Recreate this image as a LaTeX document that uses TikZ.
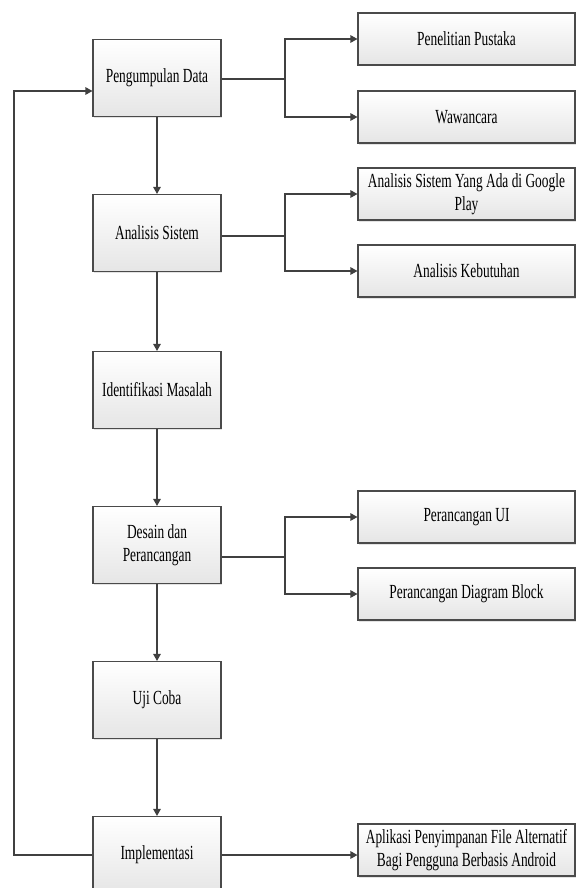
\documentclass[tikz,border=0pt]{standalone}
\usepackage{fontspec}
\setmainfont[FakeStretch=0.67]{Liberation Serif}
\usetikzlibrary{arrows.meta,shadows,positioning}
\definecolor{ln}{HTML}{404040}
\definecolor{bd}{HTML}{4A4A4A}
\begin{document}
\begin{tikzpicture}[x=1pt,y=-1pt,
  box/.style={draw=bd, line width=1.1pt, top color=white, bottom color=black!10,
    drop shadow={shadow xshift=1.2pt, shadow yshift=-1.5pt, fill=black!22},
    align=center, inner sep=2pt, font=\fontsize{20}{23.5}\selectfont},
  lbox/.style={box, minimum width=128pt, minimum height=77pt},
  rbox/.style={box, minimum width=217pt, minimum height=52pt},
  conn/.style={draw=ln, line width=1.3pt},
  arr/.style={conn, -{Triangle[length=7pt,width=7.5pt]}}]
\useasboundingbox (0,0) rectangle (576,888);

% left column
\node[lbox] (peng)  at (157,78)  {Pengumpulan Data};
\node[lbox] (anal)  at (157,233) {Analisis Sistem};
\node[lbox] (ident) at (157,390) {Identifikasi Masalah};
\node[lbox] (des)   at (157,545) {Desain dan\\Perancangan};
\node[lbox] (uji)   at (157,700) {Uji Coba};
\node[lbox] (impl)  at (157,855) {Implementasi};

% right column
\node[rbox] (pp)   at (466.5,39)  {Penelitian Pustaka};
\node[rbox] (ww)   at (466.5,117) {Wawancara};
\node[rbox] (asy)  at (466.5,194) {Analisis Sistem Yang Ada di Google\\Play};
\node[rbox] (ak)   at (466.5,271) {Analisis Kebutuhan};
\node[rbox] (pui)  at (466.5,517) {Perancangan UI};
\node[rbox] (pdb)  at (466.5,594) {Perancangan Diagram Block};
\node[rbox] (apl)  at (466.5,850) {Aplikasi Penyimpanan File Alternatif\\Bagi Pengguna Berbasis Android};

% main flow
\draw[arr] (peng) -- (anal);
\draw[arr] (anal) -- (ident);
\draw[arr] (ident) -- (des);
\draw[arr] (des) -- (uji);
\draw[arr] (uji) -- (impl);

% branches
\coordinate (b1) at (285,79);
\draw[conn] (b1 -| peng.east) -- (b1);
\draw[arr] (b1) |- (pp.west);
\draw[arr] (b1) |- (ww.west);

\coordinate (b2) at (285,236);
\draw[conn] (b2 -| anal.east) -- (b2);
\draw[arr] (b2) |- (asy.west);
\draw[arr] (b2) |- (ak.west);

\coordinate (b3) at (285,557);
\draw[conn] (b3 -| des.east) -- (b3);
\draw[arr] (b3) |- (pui.west);
\draw[arr] (b3) |- (pdb.west);

\draw[arr] (impl.east) -- (impl.east -| apl.west);

% feedback
\coordinate (fb) at (14,91);
\draw[arr] (impl.west) -| (fb) -- (fb -| peng.west);
\end{tikzpicture}
\end{document}
